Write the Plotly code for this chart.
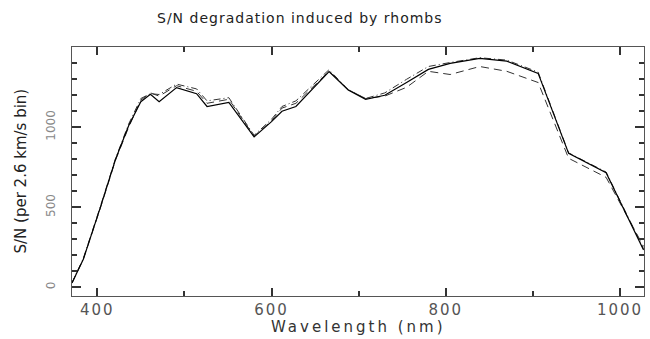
import plotly.graph_objects as go

# Wavelength grid (nm) at which S/N was evaluated
wavelength = [371, 384, 403, 421, 436, 450, 461, 471, 491, 514, 526, 551, 580,
              600, 612, 628, 666, 688, 708, 730, 755, 780, 805, 839, 870, 906,
              941, 984, 1027]

# S/N per 2.6 km/s bin, three configurations
sn_solid = [27, 175, 490, 800, 1010, 1160, 1206, 1160, 1248, 1210, 1130, 1155, 940,
            1035, 1100, 1130, 1348, 1233, 1175, 1200, 1280, 1362, 1400, 1431, 1414, 1337,
            837, 716, 233]
sn_dashed = [27, 175, 485, 795, 1000, 1170, 1215, 1195, 1260, 1225, 1150, 1175, 945,
             1040, 1120, 1150, 1350, 1235, 1180, 1195, 1250, 1350, 1330, 1380, 1350, 1280,
             806, 687, 255]
sn_dashdot = [27, 180, 495, 805, 1020, 1180, 1210, 1205, 1270, 1240, 1165, 1185, 950,
              1050, 1130, 1165, 1360, 1235, 1180, 1215, 1300, 1380, 1405, 1435, 1420, 1345,
              840, 720, 240]

x_ticks = [400, 600, 800, 1000]
y_ticks = [0, 500, 1000]

X_RANGE = [371, 1027.5]
Y_RANGE = [-55, 1502]

FONT = "DejaVu Sans"
TICKC = "#333333"


def spaced(text, px):
    return f'<span style="letter-spacing:{px}px">{text}</span>'


fig = go.Figure()
fig.add_trace(go.Scatter(x=wavelength, y=sn_dashdot, mode="lines",
                         line=dict(color="#333333", width=1, dash="7px,3px,1px,3px")))
fig.add_trace(go.Scatter(x=wavelength, y=sn_dashed, mode="lines",
                         line=dict(color="#333333", width=1, dash="8px,5px")))
fig.add_trace(go.Scatter(x=wavelength, y=sn_solid, mode="lines",
                         line=dict(color="#000000", width=1.2)))
# carrier for the unlabelled tick axis on the left/right frame (draws nothing)
fig.add_trace(go.Scatter(x=wavelength, y=sn_solid, mode="none", yaxis="y2",
                         hoverinfo="skip"))

fig.update_layout(
    width=650, height=339,
    margin=dict(l=72, r=6, t=47, b=43),
    paper_bgcolor="white", plot_bgcolor="white",
    showlegend=False,
    font=dict(family=FONT, color="#222222"),
    xaxis=dict(
        range=X_RANGE, tickvals=x_ticks, ticktext=[spaced(v, 2) for v in x_ticks],
        ticks="inside", ticklen=8, tickwidth=1.6, tickcolor=TICKC,
        showline=True, mirror="ticks", linecolor="#555555",
        tickfont=dict(size=15, color="#555555", family=FONT),
        minor=dict(dtick=100, tick0=0, ticklen=5, tickwidth=1.6, ticks="inside",
                   tickcolor=TICKC),
        showgrid=False, zeroline=False,
    ),
    # labelled axis: transparent outside ticks set the label distance
    yaxis=dict(
        range=Y_RANGE, tickvals=y_ticks, ticktext=[str(v) for v in y_ticks],
        ticks="outside", ticklen=11, tickcolor="rgba(0,0,0,0)",
        showline=True, mirror=True, linecolor="#555555",
        tickangle=-90, tickfont=dict(size=12, color="#888888", family=FONT),
        showgrid=False, zeroline=False,
    ),
    # visible inside ticks on the left and right frame
    yaxis2=dict(
        range=Y_RANGE, overlaying="y", side="left", anchor="x",
        tickvals=y_ticks, showticklabels=False,
        ticks="inside", ticklen=9, tickwidth=1.6, tickcolor=TICKC, mirror="ticks",
        minor=dict(dtick=100, tick0=0, ticklen=5, tickwidth=1.6, ticks="inside",
                   tickcolor=TICKC),
        showline=False, showgrid=False, zeroline=False,
    ),
    annotations=[
        dict(text=spaced("S/N degradation induced by rhombs", 1), xref="paper", yref="paper",
             x=(300 - 72) / 572, y=1 + (47 - 18) / 249, showarrow=False,
             font=dict(size=14, color="#222222", family=FONT), yanchor="middle"),
        dict(text=spaced("Wavelength (nm)", 3), xref="paper", yref="paper",
             x=0.5, y=-(327 - 296) / 249, showarrow=False,
             font=dict(size=15, color="#333333", family=FONT), yanchor="middle"),
        dict(text="S/N (per 2.6 km/s bin)", xref="paper", yref="paper",
             x=-(72 - 20) / 572, y=0.5, showarrow=False, textangle=-90,
             font=dict(size=15, color="#222222", family=FONT), xanchor="center"),
    ],
)

fig.write_html("out.html")
